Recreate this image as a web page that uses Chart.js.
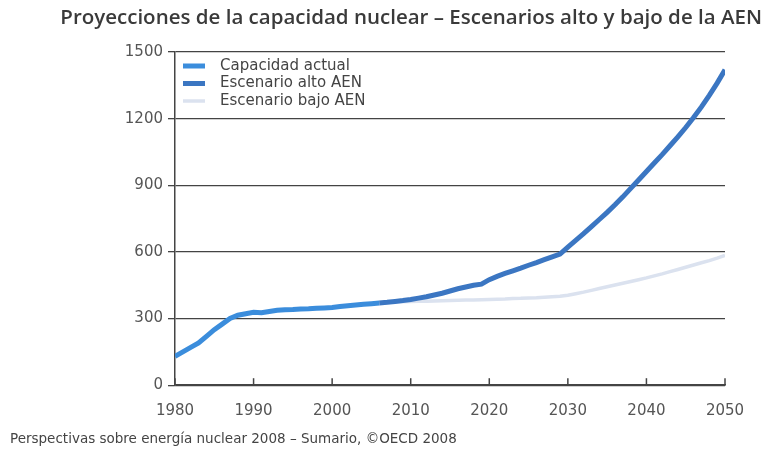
<!DOCTYPE html>
<html>
<head>
<meta charset="utf-8">
<script src="https://cdn.jsdelivr.net/npm/chart.js@4.4.0/dist/chart.umd.min.js"></script>
<style>
  body { margin: 0; background: #fff; }
</style>
</head>
<body>
<canvas id="nuclearChart" width="771" height="453"></canvas>
<script>
// years 1980..2050
const years = [];
for (let y = 1980; y <= 2050; y++) years.push(y);

// Capacidad actual, 1980-2006
const actualStart = 1980;
const actual = [130, 150, 170, 190, 220, 250, 275, 300, 315, 322, 328, 326, 332, 337, 340,
    341, 343, 344, 346, 348, 350, 354, 358, 361, 364, 367, 370];

// Escenarios, 2006-2050
const scenarioStart = 2006;
const high = [370, 373, 377, 381, 386, 392, 398, 406, 414, 424, 434, 442, 450, 455, 475,
    490, 503, 515, 527, 540, 552, 565, 578, 590, 622, 652, 682, 714, 746, 778,
    812, 848, 886, 924, 962, 1000, 1038, 1078, 1118, 1160, 1205, 1253, 1305, 1360, 1420];
const low = [370, 372, 374, 376, 377, 378, 378, 379, 380, 381, 382, 383, 384, 385, 386,
    387, 388, 390, 391, 393, 394, 396, 398, 400, 405, 412, 419, 427, 435, 443,
    451, 459, 467, 475, 483, 492, 501, 511, 521, 531, 541, 551, 561, 572, 584];

const yTicks = [0, 300, 600, 900, 1200, 1500];

function toPoints(values, start) {
    return values.map((v, i) => ({ x: years[years.indexOf(start) + i], y: v }));
}

const titleFont = "'Open Sans', sans-serif";
const axisFont = "'DejaVu Sans', sans-serif";

// small upward tick marks on the x axis
const xTickMarks = {
    id: 'xTickMarks',
    afterDraw(chart) {
        const scale = chart.scales.x;
        const ctx = chart.ctx;
        ctx.save();
        ctx.strokeStyle = '#444';
        ctx.lineWidth = 1.5;
        scale.ticks.forEach(t => {
            const px = scale.getPixelForValue(t.value);
            ctx.beginPath();
            ctx.moveTo(px, scale.top);
            ctx.lineTo(px, scale.top - 7);
            ctx.stroke();
        });
        ctx.restore();
    }
};

// legend drawn inside the plot, top left
const innerLegend = {
    id: 'innerLegend',
    afterDatasetsDraw(chart) {
        const area = chart.chartArea;
        const ctx = chart.ctx;
        ctx.save();
        ctx.font = '15px ' + axisFont;
        ctx.textBaseline = 'middle';
        chart.data.datasets.forEach((ds, i) => {
            const y = area.top + 14 + i * 17.5;
            ctx.strokeStyle = ds.borderColor;
            ctx.lineWidth = ds.borderWidth;
            ctx.beginPath();
            ctx.moveTo(area.left + 8, y);
            ctx.lineTo(area.left + 30, y);
            ctx.stroke();
            ctx.fillStyle = '#444';
            ctx.fillText(ds.label, area.left + 45, y);
        });
        ctx.restore();
    }
};

const ctx = document.getElementById('nuclearChart').getContext('2d');

new Chart(ctx, {
    type: 'line',
    data: {
        datasets: [
            {
                label: 'Capacidad actual',
                data: toPoints(actual, actualStart),
                borderColor: '#3b8ddc',
                backgroundColor: '#3b8ddc',
                borderWidth: 5
            },
            {
                label: 'Escenario alto AEN',
                data: toPoints(high, scenarioStart),
                borderColor: '#3b76c2',
                backgroundColor: '#3b76c2',
                borderWidth: 5
            },
            {
                label: 'Escenario bajo AEN',
                data: toPoints(low, scenarioStart),
                borderColor: '#dbe2ef',
                backgroundColor: '#dbe2ef',
                borderWidth: 3.5
            }
        ]
    },
    options: {
        responsive: false,
        animation: false,
        layout: {
            padding: { left: 10, right: 9, top: 0, bottom: 0 }
        },
        elements: {
            point: { radius: 0 },
            line: { tension: 0 }
        },
        scales: {
            x: {
                type: 'linear',
                min: 1980,
                max: 2050,
                grid: { display: false },
                border: { display: true, color: '#444', width: 1.5 },
                ticks: {
                    stepSize: 10,
                    padding: 9,
                    color: '#555',
                    font: { family: axisFont, size: 15 },
                    callback: v => String(v)
                },
                afterFit: s => { s.height = 43.6; }
            },
            y: {
                min: 0,
                max: 1500,
                afterBuildTicks: s => { s.ticks = yTicks.map(v => ({ value: v })); },
                grid: {
                    color: '#444',
                    lineWidth: 1.3,
                    drawTicks: true,
                    tickLength: 7
                },
                border: { display: true, color: '#444', width: 1.5 },
                ticks: {
                    padding: 5,
                    color: '#555',
                    font: { family: axisFont, size: 15 },
                    callback: v => String(v)
                },
                afterFit: s => { s.width = 165; }
            },
            yRight: {
                position: 'right',
                display: true,
                grid: { display: false },
                border: { display: false },
                ticks: { display: false },
                afterFit: s => { s.width = 37; }
            }
        },
        plugins: {
            title: {
                display: true,
                text: 'Proyecciones de la capacidad nuclear – Escenarios alto y bajo de la AEN',
                align: 'end',
                color: '#3a3a3a',
                font: { family: titleFont, size: 20.5, weight: '600' },
                padding: { top: 6, bottom: 21.4 }
            },
            subtitle: {
                display: true,
                position: 'bottom',
                align: 'start',
                text: 'Perspectivas sobre energía nuclear 2008 – Sumario, ©OECD 2008',
                color: '#444',
                font: { family: axisFont, size: 13.5 },
                padding: { top: 3, bottom: 5 }
            },
            legend: { display: false },
            tooltip: { enabled: false }
        }
    },
    plugins: [xTickMarks, innerLegend]
});
</script>
</body>
</html>
